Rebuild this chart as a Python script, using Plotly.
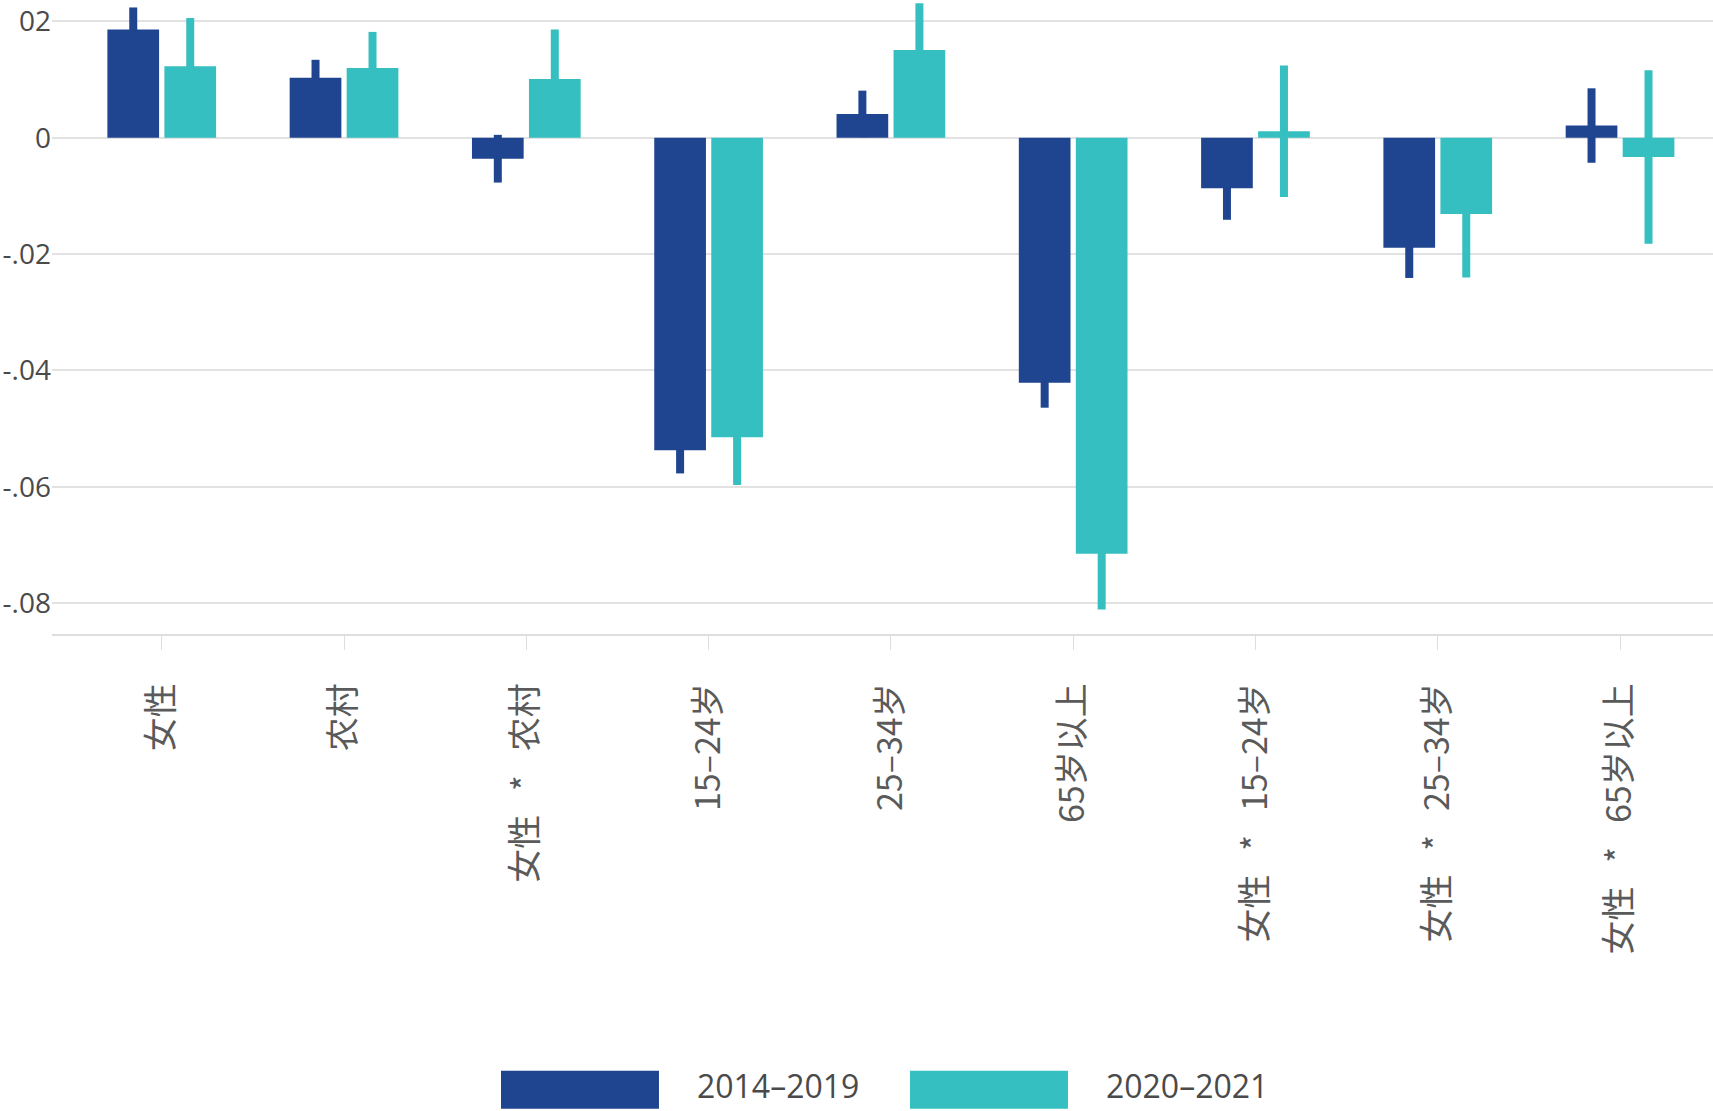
import plotly.graph_objects as go

categories = ["女性", "农村", "女性 * 农村", "15–24岁", "25–34岁", "65岁以上",
              "女性 * 15–24岁", "女性 * 25–34岁", "女性 * 65岁以上"]
series_names = ["2014–2019", "2020–2021"]
values_2014 = [0.0186, 0.0103, -0.0036, -0.0537, 0.0041, -0.0421, -0.0087, -0.0189, 0.0021]
values_2020 = [0.0123, 0.0120, 0.0101, -0.0515, 0.0151, -0.0715, 0.0011, -0.0131, -0.0033]
ci_2014 = [0.0038, 0.0031, 0.0041, 0.0040, 0.0040, 0.0043, 0.0054, 0.0052, 0.0064]
ci_2020 = [0.0083, 0.0062, 0.0085, 0.0082, 0.0080, 0.0096, 0.0113, 0.0109, 0.0149]
y_tickvals = [-0.08, -0.06, -0.04, -0.02, 0, 0.02]
y_ticktext = ["-.08", "-.06", "-.04", "-.02", "0", "02"]

# displayed labels: same text, with wider spacing around the asterisk
x_ticktext = [c.replace(" ", "\u2002\u2009") for c in categories]

colors = ["#1F4591", "#36BFC0"]
values = [values_2014, values_2020]
cis = [ci_2014, ci_2020]

fig = go.Figure()

# error bars (drawn underneath the bars)
for name, vals, ci, col in zip(series_names, values, cis, colors):
    fig.add_trace(go.Bar(
        x=categories, y=vals, name=name, showlegend=False,
        marker=dict(color="rgba(0,0,0,0)", line=dict(width=0)),
        error_y=dict(type="data", array=ci, visible=True, color=col, thickness=8, width=0),
        xaxis="x", yaxis="y", hoverinfo="skip",
    ))

# bars (on an overlaying axis pair so they sit above the whiskers)
for name, vals, col in zip(series_names, values, colors):
    fig.add_trace(go.Bar(
        x=categories, y=vals, name=name,
        marker=dict(color=col, line=dict(width=0)),
        xaxis="x2", yaxis="y2",
    ))

yrange = [-0.0853, 0.02368]
xrange = [-0.602, 8.51]

fig.update_layout(
    width=1713, height=1111, autosize=False,
    margin=dict(l=52, r=0, t=0, b=477, pad=0),
    paper_bgcolor="white", plot_bgcolor="white",
    barmode="group", bargap=0.3746, bargroupgap=0.093,
    xaxis=dict(
        type="category", categoryorder="array", categoryarray=categories,
        tickvals=categories, ticktext=x_ticktext,
        range=xrange, showgrid=False, zeroline=False, automargin=False,
        showline=True, linecolor="#dedede", linewidth=1.5,
        ticks="outside", ticklen=14, tickcolor="#dedede", tickwidth=1,
        tickangle=-90, ticklabelstandoff=20,
        tickfont=dict(family="Noto Sans CJK SC", size=34, color="#5a5a5a"),
    ),
    yaxis=dict(
        range=yrange, tickvals=y_tickvals, ticktext=y_ticktext,
        showgrid=True, gridcolor="#e2e2e2", gridwidth=1.5, automargin=False,
        zeroline=False, showline=False, ticks="",
        tickfont=dict(family="Open Sans", size=28, color="#4a4a4a"),
    ),
    xaxis2=dict(type="category", categoryorder="array", categoryarray=categories,
                range=xrange, overlaying="x", visible=False),
    yaxis2=dict(range=yrange, overlaying="y", visible=False),
    legend=dict(
        orientation="h", x=0.2703, xanchor="left", y=-0.7035, yanchor="middle",
        itemwidth=186, entrywidth=208, entrywidthmode="pixels",
        font=dict(family="Open Sans", size=32, color="#4a4a4a"),
        bgcolor="rgba(0,0,0,0)", traceorder="normal",
        itemclick=False, itemdoubleclick=False,
    ),
    showlegend=True,
)

post_js = """
document.body.style.margin = '0';
var gd = document.getElementById('{plot_id}');
function fixLegend(){
  var pts = gd.querySelectorAll('.legend .traces .legendpoints path');
  pts.forEach(function(p){ p.setAttribute('d', 'M-98,-15H60V23H-98Z'); });
  var lg = gd.querySelector('g.legend');
  if (lg) {
    var t = lg.getAttribute('transform') || '';
    var m = /translate\\(\\s*([-\\d.e]+)[\\s,]+([-\\d.e]+)\\s*\\)/.exec(t);
    if (m) {
      var cy = parseFloat(m[2]);
      if (lg.getAttribute('data-sy') !== String(cy)) {
        var ny = cy + 6;
        lg.setAttribute('transform', 'translate(' + m[1] + ',' + ny + ')');
        lg.setAttribute('data-sy', String(ny));
      }
    }
  }
}
fixLegend();
setTimeout(fixLegend, 50);
if (gd.on) { gd.on('plotly_afterplot', fixLegend); }
"""

fig.write_html("out.html", post_script=post_js, config={"displayModeBar": False})
